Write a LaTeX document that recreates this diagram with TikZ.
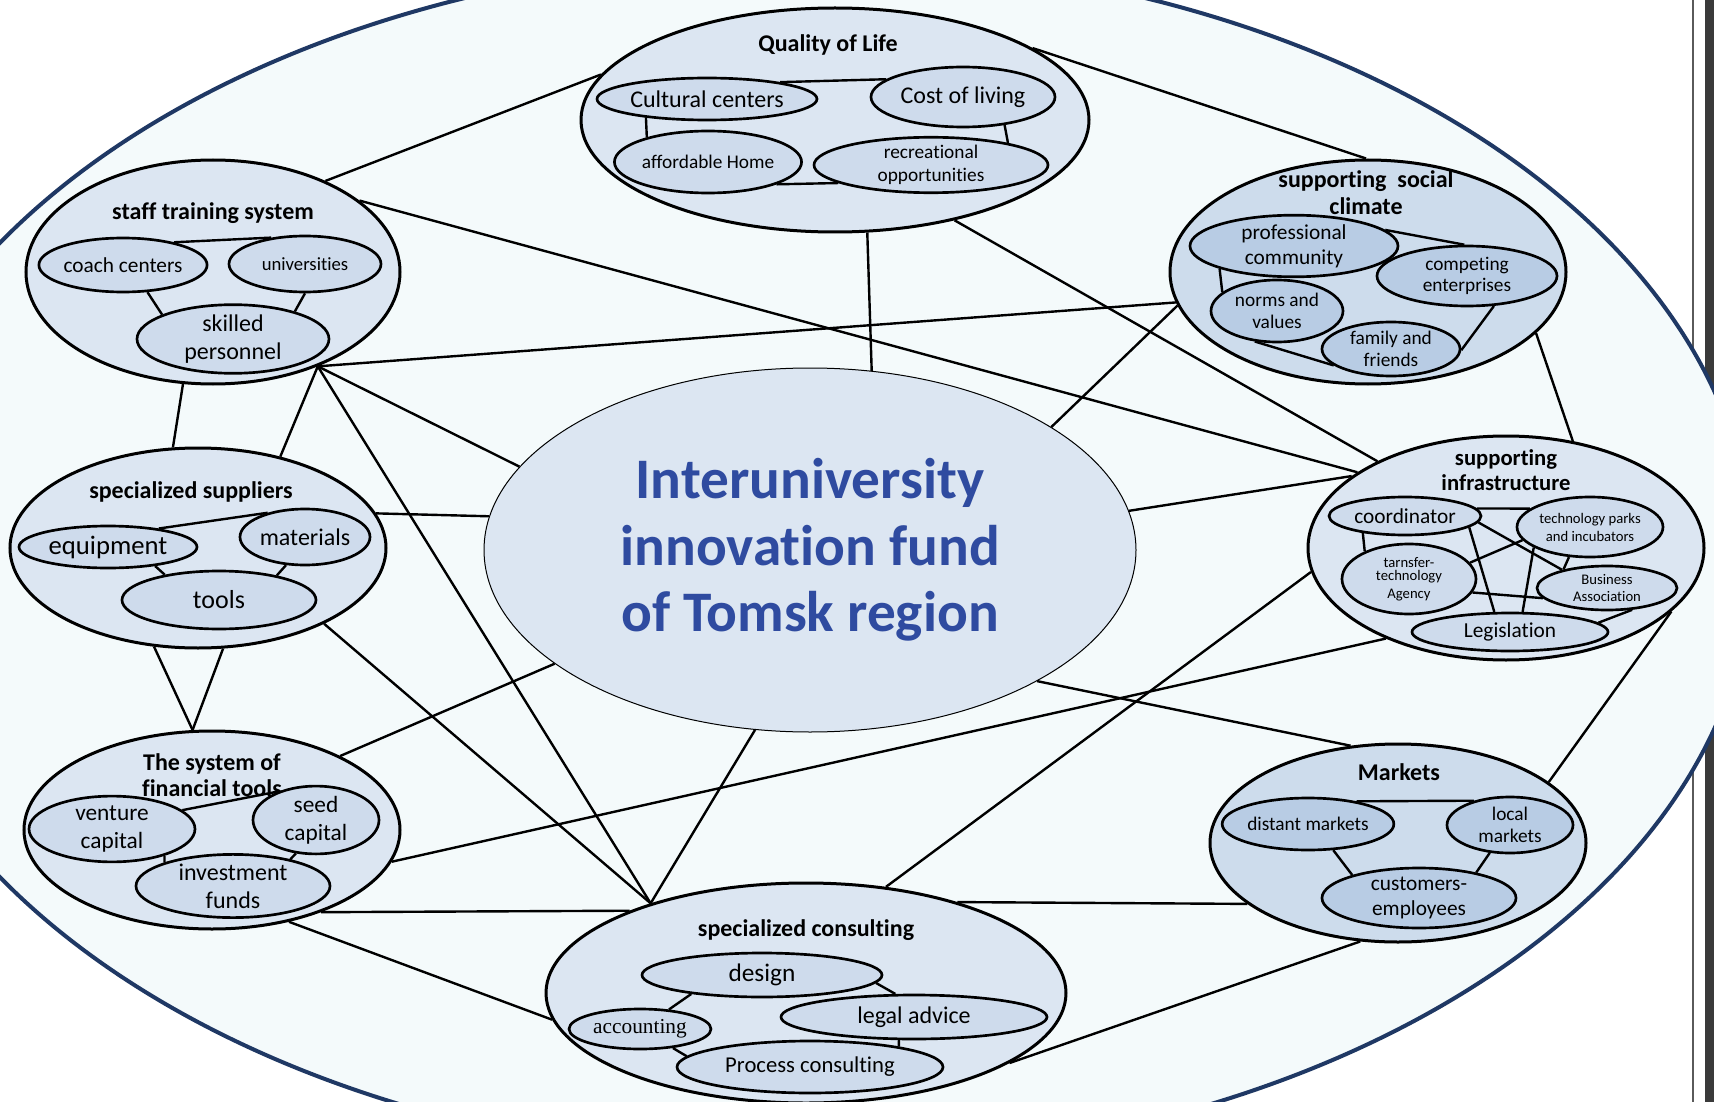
\documentclass[tikz,border=0pt]{standalone}
\usepackage{fontspec}
\setmainfont{Carlito}[Ligatures={NoCommon,NoContextual,NoRare},RawFeature={-liga;-clig;-calt;-dlig}]
\newfontfamily\accfont{Liberation Serif}
\usetikzlibrary{shapes.geometric}

\definecolor{navy}{RGB}{31,56,100}
\definecolor{bigfill}{RGB}{244,250,251}
\definecolor{grpfill}{RGB}{220,230,242}
\definecolor{subfill}{RGB}{206,219,236}
\definecolor{grpfillB}{RGB}{205,220,236}
\definecolor{subfillB}{RGB}{184,204,228}
\definecolor{fundtext}{RGB}{47,75,160}
\definecolor{stripdark}{RGB}{58,58,58}
\definecolor{stripgray}{RGB}{90,90,90}

\tikzset{every picture/.style={line width=0.75pt}}
\tikzset{
  rad/.style 2 args={minimum width=#1*1.5pt, minimum height=#2*1.5pt},
  grp/.style={draw, ellipse, line width=2.25pt, fill=grpfill, inner sep=0pt},
  grpB/.style={grp, fill=grpfillB},
  sub/.style={draw, ellipse, line width=2pt, fill=subfill, inner sep=0pt, align=center},
  subB/.style={sub, fill=subfillB},
  ttl/.style={inner sep=0.75pt, align=center, font=\bfseries\fontsize{18}{20}\selectfont},
  link/.style={line width=1.8pt}
}

\begin{document}
\begin{tikzpicture}[x=0.75pt,y=0.75pt,yscale=-1,xscale=1]
\useasboundingbox (0,0) rectangle (1714,1102);

%Shape: Strip at the right edge
\fill [stripdark] (1705,0) rectangle (1714,1102);
\draw [stripgray, line width=2pt] (1693,0) -- (1693,1102);

%Shape: Ellipse (outer field)
\begin{scope}
\clip (0,0) rectangle (1714,1102);
\draw [navy, line width=3pt, fill=bigfill] (805,560) ellipse (947 and 602);
\end{scope}

%Shape: Ellipse (groups)
\node [grp, rad={254}{112}] (qol) at (835,120) {};
\node [grp, rad={187}{112}] (staff) at (213,272) {};
\node [grpB, rad={198}{112}] (social) at (1368,272) {};
\node [grp, rad={188}{100}] (supp) at (198,548) {};
\node [grp, rad={198}{112}] (infra) at (1506,548) {};
\node [grp, rad={188}{99}] (fin) at (212,830) {};
\node [grpB, rad={188}{99}] (mark) at (1398,843) {};
\node [grp, rad={260}{110}] (cons) at (806,993) {};

%Shape: Ellipse (center)
\node [draw, ellipse, line width=0.75pt, fill=grpfill, inner sep=0pt, rad={326}{182}, align=center, text=fundtext, font=\bfseries\fontsize{43}{50}\selectfont] (fund) at (810,550) {Interuniversity\\innovation fund\\of Tomsk region};

% Text Node (titles)
\node [ttl] (qolT) at (828,45) {Quality of Life};
\node [ttl] (staffT) at (213,213) {staff training system};
\node [ttl] (socialT) at (1366,193) {supporting\ \ social\\climate};
\node [ttl] (suppT) at (191,492) {specialized suppliers};
\node [ttl, font=\bfseries\fontsize{17}{19}\selectfont] (infraT) at (1506,470) {supporting\\infrastructure};
\node [ttl] (finT) at (212,775) {The system of\\financial tools};
\node [ttl] (markT) at (1399,772) {Markets};
\node [ttl] (consT) at (806,930) {specialized consulting};

%Shape: Ellipse (Quality of Life)
\node [sub, rad={110}{21}, font=\fontsize{18}{21}\selectfont] (cult) at (707,99) {Cultural centers};
\node [sub, rad={92}{30}, font=\fontsize{18}{21}\selectfont] (cost) at (963,97) {Cost of living};
\node [sub, rad={90}{31}, font=\fontsize{14.5}{17}\selectfont] (afford) at (708,162) {affordable Home};
\node [sub, rad={117}{27}, font=\fontsize{14.5}{17}\selectfont] (recr) at (931,165) {recreational\\opportunities};

%Shape: Ellipse (staff training system)
\node [sub, rad={84}{27}, font=\fontsize{16}{19}\selectfont] (coach) at (123,265) {coach centers};
\node [sub, rad={76}{28}, font=\fontsize{14}{17}\selectfont] (univ) at (305,264) {universities};
\node [sub, rad={96}{31}, font=\fontsize{18}{21}\selectfont] (skilled) at (233,339) {skilled\\personnel};

%Shape: Ellipse (supporting social climate)
\node [subB, rad={104}{26}, font=\fontsize{16}{19}\selectfont] (prof) at (1294,246) {professional\\community};
\node [subB, rad={90}{30}, font=\fontsize{14.5}{16}\selectfont] (comp) at (1467,276) {competing\\enterprises};
\node [subB, rad={66}{31}, font=\fontsize{14.5}{16}\selectfont] (norms) at (1277,311) {norms and\\values};
\node [subB, rad={69}{27}, font=\fontsize{14.5}{16.5}\selectfont] (fam) at (1391,349) {family and\\friends};

%Shape: Ellipse (specialized suppliers)
\node [sub, rad={89}{21}, font=\fontsize{20}{24}\selectfont] (equip) at (108,547) {equipment};
\node [sub, rad={65}{28}, font=\fontsize{18}{21}\selectfont] (mat) at (305,537) {materials};
\node [sub, rad={97}{29}, font=\fontsize{19.5}{23}\selectfont] (tools) at (219,600) {tools};

%Shape: Ellipse (supporting infrastructure)
\node [sub, rad={76}{19}, font=\fontsize{16}{19}\selectfont] (coord) at (1405,516) {coordinator};
\node [sub, rad={73}{30}, font=\fontsize{11}{13.5}\selectfont] (tech) at (1590,527) {technology parks\\and incubators};
\node [sub, rad={67}{35}, font=\fontsize{11}{13.5}\selectfont] (agency) at (1409,579) {tarnsfer-\\[-4pt]technology\\Agency};
\node [sub, rad={70}{22}, font=\fontsize{11}{12.75}\selectfont] (bus) at (1607,588) {Business\\Association};
\node [sub, rad={98}{19}, font=\fontsize{16}{19}\selectfont] (leg) at (1510,632) {Legislation};

%Shape: Ellipse (system of financial tools)
\node [sub, rad={83}{26}, font=\fontsize{17.5}{21}\selectfont] (vent) at (112,829) {venture\\capital};
\node [sub, rad={63}{28}, font=\fontsize{17.5}{21}\selectfont] (seed) at (316,820) {seed\\capital};
\node [sub, rad={97}{31}, font=\fontsize{18}{21}\selectfont] (inv) at (233,886) {investment\\funds};

%Shape: Ellipse (Markets)
\node [subB, rad={84}{26}, font=\fontsize{14.5}{17}\selectfont] (dist) at (1308,824) {distant markets};
\node [subB, rad={63}{28}, font=\fontsize{14.5}{16}\selectfont] (local) at (1510,825) {local\\markets};
\node [subB, rad={97}{30}, font=\fontsize{16}{19}\selectfont] (cust) at (1419,898) {customers-\\employees};

%Shape: Ellipse (specialized consulting)
\node [sub, rad={120}{22}, font=\fontsize{19}{22}\selectfont] (design) at (762,975) {design};
\node [sub, rad={71}{20}, font=\accfont\fontsize{16}{19}\selectfont] (acc) at (640,1029) {accounting};
\node [sub, rad={133}{22}, font=\fontsize{18}{21}\selectfont] (legal) at (914,1017) {legal advice};
\node [sub, rad={133}{26}, font=\fontsize{17}{20}\selectfont] (proc) at (810,1067) {Process consulting};

%Straight Lines (between groups)
\draw [link] (staff.39) -- (qol.169);
\draw [link] (staff.26) -- (infra.153);
\draw [link] (staff.-42) -- (social.189);
\draw [link] (staff.-42) -- (fund.164);
\draw [link] (staff.-42) -- (cons.150);
\draw [link] (staff.-42) -- (supp.48);
\draw [link] (staff.255) -- (supp.104);
\draw [link] (qol.20) -- (social.91);
\draw [link] (qol.-74) -- (fund.71);
\draw [link] (qol.-40) -- (infra.146);
\draw [link] (fund.27) -- (social.190);
\draw [link] (social.-20) -- (infra.58);
\draw [link] (fund.7) -- (infra.155);
\draw [link] (supp.11) -- (fund.174);
\draw [link] (supp.246) -- (fin.101);
\draw [link] (supp.284) -- (fin.101);
\draw [link] (supp.-31) -- (cons.150);
\draw [link] (fin.30) -- (fund.204);
\draw [link] (fin.-10) -- (infra.217);
\draw [link] (fin.-37) -- (cons.155);
\draw [link] (fin.-50) -- (cons.186);
\draw [link] (fund.253) -- (cons.150);
\draw [link] (cons.53) -- (infra.187);
\draw [link] (cons.31) -- (mark.202);
\draw [link] (cons.-19) -- (mark.249);
\draw [link] (fund.-30) -- (mark.116);
\draw [link] (mark.22) -- (infra.-21);

%Straight Lines (inside groups)
\draw [link] (cult.13) -- (cost.167);
\draw [link] (cult.197) -- (afford.158);
\draw [link] (cost.-34) -- (recr.16);
\draw [link] (afford.-18) -- (recr.191);

\draw [link] (coach.24) -- (univ.142);
\draw [link] (coach.-48) -- (skilled.161);
\draw [link] (univ.-90) -- (skilled.24);

\draw [link] (prof.10) -- (comp.95);
\draw [link] (prof.197) -- (norms.161);
\draw [link] (norms.234) -- (fam.196);
\draw [link] (comp.-48) -- (fam.-1);

\draw [link] (equip.20) -- (mat.147);
\draw [link] (equip.-22) -- (tools.155);
\draw [link] (mat.236) -- (tools.23);

\draw [link] (coord.6) -- (tech.163);
\draw [link] (coord.202) -- (agency.148);
\draw [link] (coord.-10) -- (leg.128);
\draw [link] (coord.-5) -- (bus.158);
\draw [link] (agency.15) -- (tech.191);
\draw [link] (agency.-12) -- (bus.189);
\draw [link] (tech.200) -- (leg.58);
\draw [link] (tech.235) -- (bus.157);
\draw [link] (bus.-41) -- (leg.6);

\draw [link] (vent.15) -- (seed.143);
\draw [link] (vent.-27) -- (inv.161);
\draw [link] (seed.239) -- (inv.25);

\draw [link] (dist.25) -- (local.146);
\draw [link] (dist.-46) -- (cust.161);
\draw [link] (local.234) -- (cust.24);

\draw [link] (design.195) -- (acc.34);
\draw [link] (design.-4) -- (legal.129);
\draw [link] (acc.-30) -- (proc.175);
\draw [link] (legal.237) -- (proc.13);

\end{tikzpicture}
\end{document}
